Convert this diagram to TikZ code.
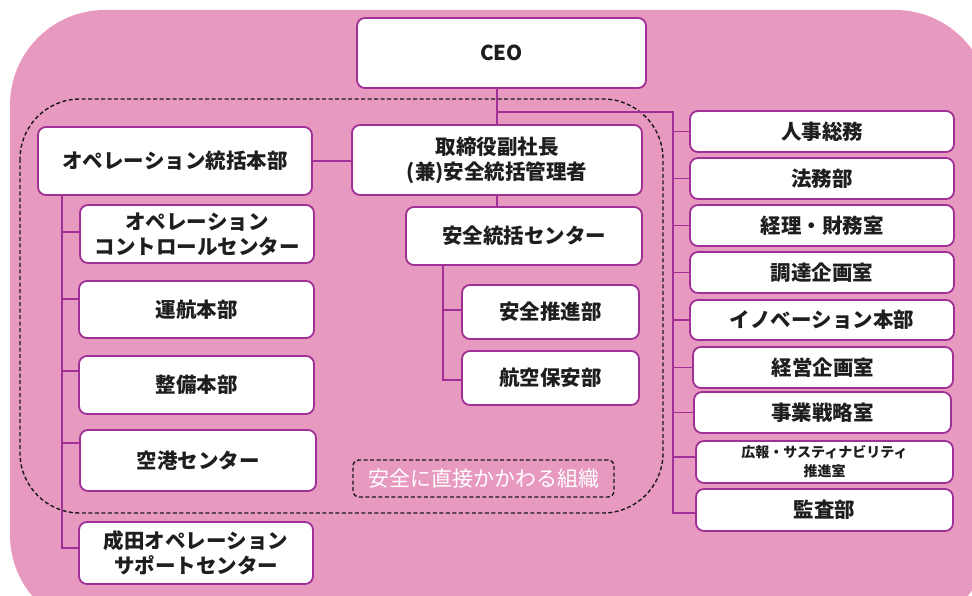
\documentclass[tikz,border=0pt]{standalone}
\usepackage{fontspec}
\setmainfont{Noto Sans CJK JP}
\usetikzlibrary{calc}
\definecolor{bgpink}{RGB}{231,153,191}
\definecolor{boxc}{RGB}{160,48,150}
\definecolor{txt}{RGB}{30,30,30}
\tikzset{
  orgbox/.style={draw=boxc, line width=1.8pt, fill=white, rounded corners=8pt,
    text=txt, font=\bfseries\fontsize{20.5}{25}\selectfont, align=center, inner sep=0pt},
  smallbox/.style={orgbox, font=\bfseries\fontsize{14}{19}\selectfont},
  ln/.style={draw=boxc, line width=1.6pt},
  zone/.style={draw=black!90, line width=1.4pt, dash pattern=on 4pt off 2.5pt},
}
\begin{document}
\begin{tikzpicture}[x=1pt,y=-1pt]
\useasboundingbox (0,0) rectangle (972,596);
% background
\begin{scope}
\clip (0,0) rectangle (972,596);
\fill[bgpink, rounded corners=95pt] (10,10) rectangle (990,630);
\end{scope}
% dashed region
\draw[zone, rounded corners=60pt] (20,99) rectangle (663,513);

% nodes
\node[orgbox, minimum width=289pt, minimum height=70pt] (ceo) at (501.5,53) {CEO};
\node[orgbox, minimum width=274pt, minimum height=68pt] (ops) at (175,161) {オペレーション統括本部};
\node[orgbox, minimum width=290pt, minimum height=70pt] (vp) at (497,160) {取締役副社長\\(兼)安全統括管理者};
\node[orgbox, minimum width=234pt, minimum height=58pt] (occ) at (197,234) {オペレーション\\コントロールセンター};
\node[orgbox, minimum width=235pt, minimum height=57pt] (unko) at (196.5,309.5) {運航本部};
\node[orgbox, minimum width=235pt, minimum height=58pt] (seibi) at (196.5,385) {整備本部};
\node[orgbox, minimum width=236pt, minimum height=61pt] (kuko) at (198,460.5) {空港センター};
\node[orgbox, minimum width=234pt, minimum height=62pt] (narita) at (196,553) {成田オペレーション\\サポートセンター};
\node[orgbox, minimum width=236pt, minimum height=58pt] (ac) at (524,236) {安全統括センター};
\node[orgbox, minimum width=177pt, minimum height=54pt] (suishin) at (550.5,312) {安全推進部};
\node[orgbox, minimum width=177pt, minimum height=54pt] (hoan) at (550.5,378) {航空保安部};
\node[orgbox, minimum width=264pt, minimum height=41pt] (r1) at (822,131.5) {人事総務};
\node[orgbox, minimum width=264pt, minimum height=41pt] (r2) at (822,178.5) {法務部};
\node[orgbox, minimum width=264pt, minimum height=41pt] (r3) at (822,225.5) {経理・財務室};
\node[orgbox, minimum width=264pt, minimum height=41pt] (r4) at (822,272.5) {調達企画室};
\node[orgbox, minimum width=264pt, minimum height=40pt] (r5) at (822,320) {イノベーション本部};
\node[orgbox, minimum width=260pt, minimum height=41pt] (r6) at (823,367.5) {経営企画室};
\node[orgbox, minimum width=257pt, minimum height=41pt] (r7) at (822.5,412.5) {事業戦略室};
\node[smallbox, minimum width=257pt, minimum height=42pt] (r8) at (824.5,462) {広報・サスティナビリティ\\推進室};
\node[orgbox, minimum width=257pt, minimum height=42pt] (r9) at (824.5,510) {監査部};
\node[zone, rounded corners=6pt, minimum width=261pt, minimum height=37pt,
      text=white, font=\fontsize{21}{25}\selectfont, inner sep=0pt] (lbl) at (483.5,478.5) {安全に直接かかわる組織};

% connectors
\coordinate (lt) at (62,195);
\coordinate (rtop) at (673,112);
\coordinate (act) at (443,265);
% CEO - VP and right trunk
\draw[ln] (vp.north) -- (vp.north |- ceo.south);
\draw[ln] (vp.north |- rtop) -- (rtop) |- ([yshift=-3pt]r9.west);
\foreach \n in {r1,r2,r3,r4,r5,r6,r7}{
  \draw[ln] (\n.west) -- (\n.west -| rtop);
}
\draw[ln] ([yshift=5pt]r8.west) -- ([yshift=5pt]r8.west -| rtop);
% ops - vp
\draw[ln] (ops.east) -- (ops.east -| vp.west);
% vp - safety center
\draw[ln] (vp.south) -- (vp.south |- ac.north);
% safety center children
\draw[ln] (act) |- ([yshift=-2pt]hoan.west);
\draw[ln] ([yshift=2pt]suishin.west) -- ([yshift=2pt]suishin.west -| act);
% left trunk
\draw[ln] (lt) |- ([yshift=5pt]narita.west);
\draw[ln] ([yshift=2pt]occ.west) -- ([yshift=2pt]occ.west -| lt);
\draw[ln] ([yshift=10.5pt]unko.west) -- ([yshift=10.5pt]unko.west -| lt);
\draw[ln] ([yshift=14pt]seibi.west) -- ([yshift=14pt]seibi.west -| lt);
\draw[ln] ([yshift=17.5pt]kuko.west) -- ([yshift=17.5pt]kuko.west -| lt);
\end{tikzpicture}
\end{document}
